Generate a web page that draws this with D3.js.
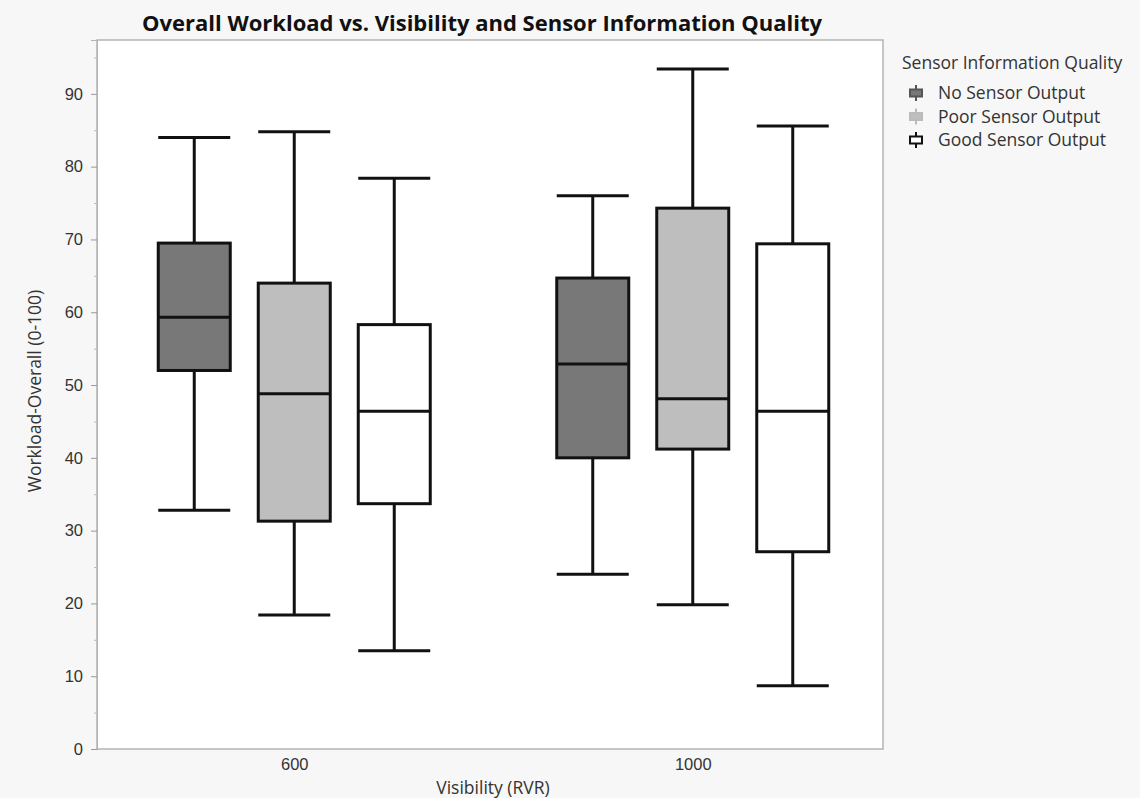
<!DOCTYPE html>
<html>
<head>
<meta charset="utf-8">
<script src="https://cdn.jsdelivr.net/npm/d3@7"></script>
<style>
  body { margin: 0; background: #f7f7f7; }
  svg { display: block; font-family: "Open Sans", "Noto Sans", sans-serif; }
</style>
</head>
<body>
<div id="chart"></div>
<script>
// Data
const groups = ["600", "1000"];
const series = ["No Sensor Output", "Poor Sensor Output", "Good Sensor Output"];
const colors = ["#787878", "#bebebe", "#ffffff"];
// [low whisker, Q1, median, Q3, high whisker] per group, per series
const stats600 = [
  [32.8, 52.0, 59.3, 69.5, 84.0],
  [18.4, 31.3, 48.8, 64.0, 84.8],
  [13.5, 33.7, 46.4, 58.3, 78.4]
];
const stats1000 = [
  [24.0, 40.0, 52.9, 64.7, 76.0],
  [19.8, 41.2, 48.1, 74.3, 93.4],
  [8.7, 27.1, 46.4, 69.4, 85.6]
];
const yTicks = [0, 10, 20, 30, 40, 50, 60, 70, 80, 90];

const W = 1140, H = 798;
const margin = { top: 40, right: 257, bottom: 49, left: 97 };
const width = W - margin.left - margin.right;
const height = H - margin.top - margin.bottom;

const svg = d3.select("#chart").append("svg")
  .attr("width", W)
  .attr("height", H);

svg.append("rect").attr("width", W).attr("height", H).attr("fill", "#f7f7f7");

const g = svg.append("g")
  .attr("transform", "translate(" + margin.left + "," + margin.top + ")");

g.append("rect")
  .attr("width", width)
  .attr("height", height)
  .attr("fill", "#ffffff")
  .attr("stroke", "#b4b4b4")
  .attr("stroke-width", 1.5);

// Scales
const y = d3.scaleLinear().domain([0, 97.4]).range([height, 0]);
const x0 = d3.scalePoint().domain(groups).range([-2, width + 9]).padding(0.5);
const x1 = d3.scaleBand().domain(series).range([-150, 150]).paddingInner(0.28).paddingOuter(0.14);

// Axes
const yAxis = g.append("g")
  .call(d3.axisLeft(y).tickValues(yTicks).tickSize(6).tickPadding(8));
yAxis.select(".domain").attr("stroke", "#b4b4b4");
yAxis.selectAll(".tick line").attr("stroke", "#999");
yAxis.selectAll("text").attr("font-size", 16.5).attr("fill", "#333");

g.append("g")
  .call(d3.axisLeft(y).tickValues(d3.range(5, 97, 10)).tickSize(3).tickFormat(""))
  .call(s => s.select(".domain").remove())
  .selectAll("line").attr("stroke", "#bbb");

const xAxis = g.append("g")
  .attr("transform", "translate(0," + height + ")")
  .call(d3.axisBottom(x0).tickSize(0).tickPadding(9));
xAxis.select(".domain").remove();
xAxis.selectAll("text").attr("font-size", 16.5).attr("fill", "#333");

// Boxes
const allStats = { "600": stats600, "1000": stats1000 };
const bw = x1.bandwidth();

groups.forEach(grp => {
  allStats[grp].forEach((s, i) => {
    const cx = x0(grp) + x1(series[i]) + bw / 2;
    const left = cx - bw / 2;
    const b = g.append("g").attr("stroke", "#111").attr("stroke-width", 3);
    // whiskers
    b.append("line").attr("x1", cx).attr("x2", cx).attr("y1", y(s[0])).attr("y2", y(s[1]));
    b.append("line").attr("x1", cx).attr("x2", cx).attr("y1", y(s[3])).attr("y2", y(s[4]));
    b.append("line").attr("x1", left).attr("x2", left + bw).attr("y1", y(s[0])).attr("y2", y(s[0]));
    b.append("line").attr("x1", left).attr("x2", left + bw).attr("y1", y(s[4])).attr("y2", y(s[4]));
    // box
    b.append("rect")
      .attr("x", left).attr("y", y(s[3]))
      .attr("width", bw).attr("height", y(s[1]) - y(s[3]))
      .attr("fill", colors[i]);
    b.append("line").attr("x1", left).attr("x2", left + bw).attr("y1", y(s[2])).attr("y2", y(s[2]));
  });
});

// Title
svg.append("text")
  .attr("x", 482)
  .attr("y", 31)
  .attr("text-anchor", "middle")
  .attr("font-size", 22)
  .attr("font-weight", "bold")
  .attr("fill", "#111")
  .text("Overall Workload vs. Visibility and Sensor Information Quality");

// Axis labels
svg.append("text")
  .attr("x", 493)
  .attr("y", 794)
  .attr("text-anchor", "middle")
  .attr("font-size", 17.5)
  .attr("fill", "#333")
  .text("Visibility (RVR)");

svg.append("text")
  .attr("transform", "translate(41," + 391 + ") rotate(-90)")
  .attr("text-anchor", "middle")
  .attr("font-size", 17.5)
  .attr("fill", "#333")
  .text("Workload-Overall (0-100)");

// Legend
const legend = svg.append("g").attr("transform", "translate(902,0)");
legend.append("text")
  .attr("x", 0).attr("y", 69)
  .attr("font-size", 17.5).attr("fill", "#333")
  .text("Sensor Information Quality");

series.forEach((name, i) => {
  const ly = 93 + i * 23.5;
  const item = legend.append("g").attr("transform", "translate(14," + ly + ")");
  const strokeCol = i === 0 ? "#555" : (i === 1 ? "#bbb" : "#111");
  item.append("line").attr("x1", 0).attr("x2", 0).attr("y1", -8).attr("y2", 8)
    .attr("stroke", strokeCol).attr("stroke-width", 2);
  item.append("rect").attr("x", -6).attr("y", -3.5).attr("width", 12).attr("height", 7)
    .attr("fill", colors[i]).attr("stroke", strokeCol).attr("stroke-width", 2);
  item.append("text")
    .attr("x", 22).attr("y", 6)
    .attr("font-size", 17.5).attr("fill", "#333")
    .text(name);
});
</script>
</body>
</html>
